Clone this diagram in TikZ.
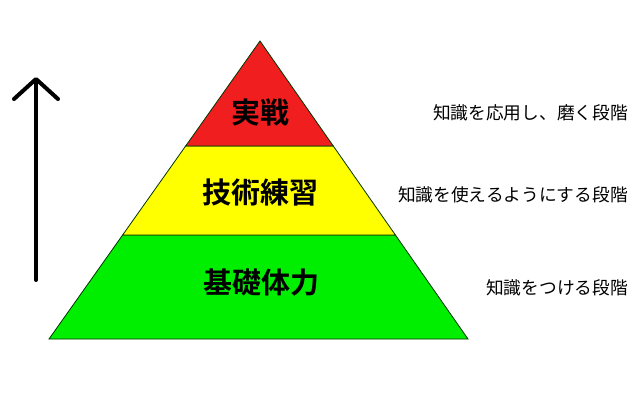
\documentclass[tikz,border=0pt]{standalone}
\usepackage{fontspec}
\usepackage{tikz}
\usetikzlibrary{calc,arrows.meta}
\newfontfamily\jpbold{Noto Sans CJK JP Bold}
\newfontfamily\jp{Noto Sans CJK JP}
\definecolor{lvlred}{RGB}{240,30,30}
\definecolor{lvlyellow}{RGB}{255,255,0}
\definecolor{lvlgreen}{RGB}{0,238,0}

\begin{document}
\begin{tikzpicture}[x=1pt,y=-1pt,
    band/.style={draw=black!80!green,line width=0.8pt},
    level/.style={font=\jpbold\fontsize{29}{29}\selectfont,inner sep=0pt},
    note/.style={font=\jp\fontsize{17.7}{17.7}\selectfont,inner sep=0pt,anchor=east}]
  \useasboundingbox (0,0) rectangle (640,400);
  % pyramid corners
  \coordinate (apex) at (260,41);
  \coordinate (baseL) at (49,339);
  \coordinate (baseR) at (468,339);
  \coordinate (upL) at ($(apex)!0.3523!(baseL)$);
  \coordinate (upR) at ($(apex)!0.3523!(baseR)$);
  \coordinate (midL) at ($(apex)!0.651!(baseL)$);
  \coordinate (midR) at ($(apex)!0.651!(baseR)$);
  % bands
  \filldraw[band,fill=lvlgreen] (midL) -- (midR) -- (baseR) -- (baseL) -- cycle;
  \filldraw[band,fill=lvlyellow] (upL) -- (upR) -- (midR) -- (midL) -- cycle;
  \filldraw[band,fill=lvlred] (apex) -- (upR) -- (upL) -- cycle;
  % labels
  \node[level] (jissen) at (260,113) {実戦};
  \node[level] (gijutsu) at (260,193) {技術練習};
  \node[level] (kiso) at (261,283) {基礎体力};
  \node[note] (oyo) at (628,113) {知識を応用し、磨く段階};
  \node[note] (tsukau) at (628,195) {知識を使えるようにする段階};
  \node[note] (tsukeru) at (628,288) {知識をつける段階};
  % arrow
  \coordinate (arrowbot) at (36,280);
  \coordinate (arrowtop) at (36,77);
  \draw[line width=4pt,line cap=round,-{Straight Barb[length=20pt,width=44pt,round]}] (arrowbot) -- (arrowtop);
\end{tikzpicture}
\end{document}
